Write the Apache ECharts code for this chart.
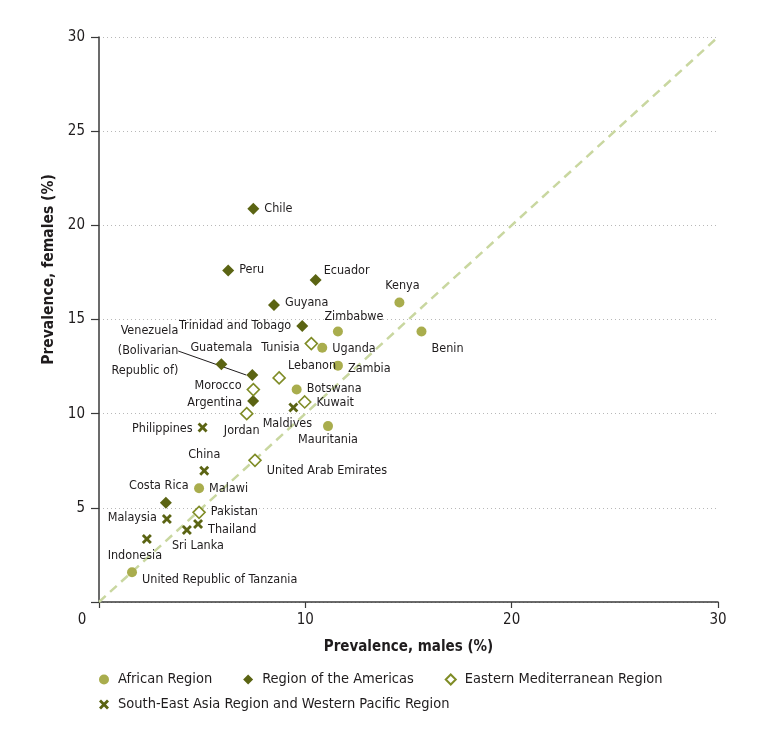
<!DOCTYPE html>
<html>
<head>
<meta charset="utf-8">
<script src="https://cdn.jsdelivr.net/npm/echarts@6/dist/echarts.min.js"></script>
<style>
html,body{margin:0;padding:0;background:#fff;}
#chart{width:771px;height:740px;}
</style>
</head>
<body>
<div id="chart"></div>
<script>
// ---- Data (prevalence %, males = x, females = y) ----
var seriesNames = ['African Region', 'Region of the Americas', 'Eastern Mediterranean Region', 'South-East Asia Region and Western Pacific Region'];

var africanNames = ['Kenya', 'Benin', 'Zimbabwe', 'Uganda', 'Zambia', 'Botswana', 'Mauritania', 'Malawi', 'United Republic of Tanzania'];
var africanMales = [14.56, 15.63, 11.58, 10.82, 11.58, 9.58, 11.10, 4.85, 1.60];
var africanFemales = [15.90, 14.36, 14.36, 13.50, 12.55, 11.28, 9.34, 6.04, 1.58];

var americasNames = ['Chile', 'Peru', 'Ecuador', 'Guyana', 'Trinidad and Tobago', 'Guatemala', 'Argentina', 'Costa Rica'];
var americasMales = [7.48, 6.26, 10.50, 8.48, 9.85, 5.93, 7.47, 3.24];
var americasFemales = [20.88, 17.60, 17.10, 15.77, 14.65, 12.62, 10.67, 5.27];

var venezuelaName = 'Venezuela\n(Bolivarian\nRepublic of)';
var venezuelaMales = [7.43];
var venezuelaFemales = [12.05];

var emrNames = ['Tunisia', 'Lebanon', 'Morocco', 'Kuwait', 'Jordan', 'United Arab Emirates', 'Pakistan'];
var emrMales = [10.29, 8.73, 7.48, 9.97, 7.16, 7.56, 4.85];
var emrFemales = [13.72, 11.90, 11.28, 10.62, 10.00, 7.52, 4.76];

var seaNames = ['Maldives', 'Philippines', 'China', 'Malaysia', 'Thailand', 'Sri Lanka', 'Indonesia'];
var seaMales = [9.42, 5.02, 5.10, 3.29, 4.80, 4.26, 2.32];
var seaFemales = [10.33, 9.27, 6.97, 4.41, 4.14, 3.82, 3.34];

var equalityLine = [[0, 0], [30, 30]];

var xTicks = [0, 10, 20, 30];
var yTicks = [0, 5, 10, 15, 20, 25, 30];

// ---- Label placement (layout only) ----
var labelPlacement = {
  'Kenya': ['top', 3, 0],
  'Benin': ['right', 0, 17],
  'Zimbabwe': ['top', 16, 2],
  'Uganda': ['right', 0, 1],
  'Zambia': ['right', 0, 3],
  'Botswana': ['right', 0, -1],
  'Mauritania': ['bottom', 0, -3],
  'Malawi': ['right', 0, 1],
  'United Republic of Tanzania': ['right', 0, 8],
  'Chile': ['right', 0, 0],
  'Peru': ['right', 0, -1],
  'Ecuador': ['right', -3, -9],
  'Guyana': ['right', 0, -2],
  'Trinidad and Tobago': ['left', 0, 0],
  'Guatemala': ['top', 0, 1],
  'Argentina': ['left', 0, 2],
  'Costa Rica': ['top', -7, 1],
  'Tunisia': ['left', 0, 4],
  'Lebanon': ['right', -3, -12],
  'Morocco': ['left', 0, -4],
  'Kuwait': ['right', 0, 1],
  'Jordan': ['bottom', -5, -1],
  'United Arab Emirates': ['right', 0, 10],
  'Pakistan': ['right', 0, -1],
  'Maldives': ['bottom', -6, 0],
  'Philippines': ['left', 0, 1],
  'China': ['top', 0, 1],
  'Malaysia': ['left', 0, -1],
  'Thailand': ['right', 0, 6],
  'Sri Lanka': ['bottom', 11, -1],
  'Indonesia': ['bottom', -12, 0]
};

function buildData(names, xs, ys) {
  return names.map(function (n, i) {
    var p = labelPlacement[n] || ['right', 0, 0];
    return {
      name: n,
      value: [xs[i], ys[i]],
      label: { position: p[0], offset: [p[1], p[2]] }
    };
  });
}

var FONT = '"Liberation Sans Narrow", "DejaVu Sans Condensed", "Open Sans", sans-serif';
var C_AFR = '#a9ad4d';
var C_AMR = '#5b6413';
var C_EMR = '#7f8c26';
var C_SEA = '#5b6413';
var TXT = '#1f1c1d';
var crossPath = 'path://M2,0 L5,3 L8,0 L10,2 L7,5 L10,8 L8,10 L5,7 L2,10 L0,8 L3,5 L0,2 Z';

var labelBase = { show: true, formatter: '{b}', color: TXT, fontFamily: FONT, fontSize: 12.5, distance: 5 };

var chart = echarts.init(document.getElementById('chart'), null, { renderer: 'canvas' });

var option = {
  animation: false,
  backgroundColor: '#ffffff',
  textStyle: { fontFamily: FONT },
  grid: { left: 99, right: 53, top: 37, bottom: 138, containLabel: false },
  legend: [
    {
      data: [seriesNames[0], seriesNames[1], seriesNames[2]],
      left: 94, top: 667,
      orient: 'horizontal',
      itemWidth: 10, itemHeight: 10, itemGap: 31,
      textStyle: { fontFamily: FONT, fontSize: 14.5, color: TXT, padding: [0, 0, 0, 4] }
    },
    {
      data: [seriesNames[3]],
      left: 94, top: 692,
      itemWidth: 10, itemHeight: 10,
      textStyle: { fontFamily: FONT, fontSize: 14.5, color: TXT, padding: [0, 0, 0, 4] }
    }
  ],
  xAxis: {
    type: 'value', min: 0, max: 30, interval: 10,
    name: 'Prevalence, males (%)', nameLocation: 'middle', nameGap: 38,
    nameTextStyle: { fontFamily: FONT, fontSize: 15, fontWeight: 'bold', color: TXT },
    axisLine: { show: true, onZero: false, lineStyle: { color: '#3a3a3a', width: 1.5 } },
    axisTick: { show: true, length: 6, lineStyle: { color: '#3a3a3a', width: 1.2 } },
    axisLabel: {
      fontFamily: FONT, fontSize: 15, color: TXT, margin: 11,
      formatter: function (v) { return v === 0 ? '{z|0}' : String(v); },
      rich: { z: { fontFamily: FONT, fontSize: 15, color: TXT, padding: [0, 34, 0, 0] } }
    },
    splitLine: { show: false }
  },
  yAxis: {
    type: 'value', min: 0, max: 30, interval: 5,
    name: 'Prevalence, females (%)', nameLocation: 'middle', nameGap: 42,
    nameTextStyle: { fontFamily: FONT, fontSize: 15.5, fontWeight: 'bold', color: TXT, padding: [0, 0, 0, 100] },
    axisLine: { show: true, onZero: false, lineStyle: { color: '#3a3a3a', width: 1.5 } },
    axisTick: { show: true, length: 8, lineStyle: { color: '#3a3a3a', width: 1.2 } },
    axisLabel: {
      fontFamily: FONT, fontSize: 15, color: TXT, margin: 14,
      formatter: function (v) { return v === 0 ? '' : String(v); }
    },
    splitLine: { show: true, lineStyle: { color: '#b8b8b8', width: 1, type: [1, 3] } }
  },
  series: [
    {
      type: 'line', data: equalityLine, symbol: 'none', silent: true, z: 1,
      lineStyle: { color: '#c9d7a0', width: 2.5, type: [9, 6] }
    },
    {
      name: seriesNames[0], type: 'scatter', symbol: 'circle', symbolSize: 10, z: 3,
      itemStyle: { color: C_AFR, opacity: 1 },
      label: labelBase,
      data: buildData(africanNames, africanMales, africanFemales)
    },
    {
      name: seriesNames[1], type: 'scatter', symbol: 'diamond', symbolSize: 12, z: 3,
      itemStyle: { color: C_AMR, opacity: 1 },
      label: labelBase,
      data: buildData(americasNames, americasMales, americasFemales)
    },
    {
      name: seriesNames[1], type: 'scatter', symbol: 'diamond', symbolSize: 12, z: 3,
      itemStyle: { color: C_AMR, opacity: 1 },
      label: Object.assign({}, labelBase, { position: 'left', align: 'right', lineHeight: 20 }),
      labelLine: { show: true, length2: 0, lineStyle: { color: TXT, width: 1 } },
      labelLayout: { dx: -63, dy: -24 },
      data: [{ name: venezuelaName, value: [venezuelaMales[0], venezuelaFemales[0]] }]
    },
    {
      name: seriesNames[2], type: 'scatter', symbol: 'diamond', symbolSize: 12, z: 3,
      itemStyle: { color: '#ffffff', borderColor: C_EMR, borderWidth: 1.6, opacity: 1 },
      label: labelBase,
      data: buildData(emrNames, emrMales, emrFemales)
    },
    {
      name: seriesNames[3], type: 'scatter', symbol: crossPath, symbolSize: 10, z: 3,
      itemStyle: { color: C_SEA, opacity: 1 },
      label: labelBase,
      data: buildData(seaNames, seaMales, seaFemales)
    }
  ]
};

chart.setOption(option);
</script>
</body>
</html>
